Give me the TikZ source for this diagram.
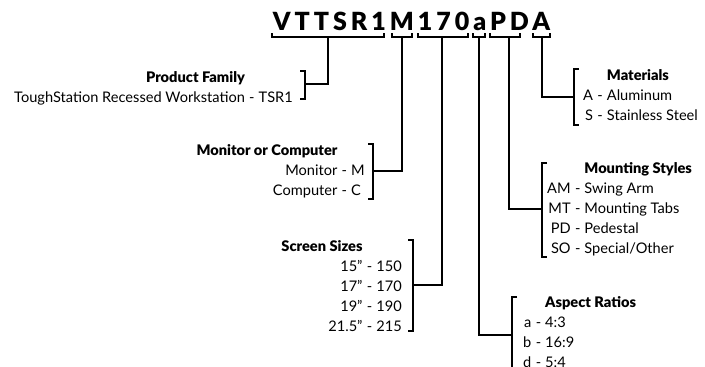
\documentclass[tikz,border=0pt]{standalone}
\usepackage{fontspec}
\setmainfont{Lato}
\newfontfamily\codefont[LetterSpace=16]{Lato Black}
\newfontfamily\headfont{Lato Black}
\newcommand{\txt}{\fontsize{14.6}{16}\selectfont}
\usetikzlibrary{matrix,positioning}

\tikzset{
  brace/.style={line width=1.3pt},
  lead/.style={line width=1.3pt},
  head/.style={font=\txt\headfont},
  group/.style={matrix of nodes, inner sep=0pt, row sep=5.6pt, column sep=4pt,
    nodes={inner sep=0pt, text height=10.6pt, text depth=3.8pt, font=\txt}},
  leftgroup/.style={group, anchor=north east,
    column 1/.style={nodes={anchor=base east}},
    column 2/.style={nodes={anchor=base west}},
    column 3/.style={nodes={anchor=base west}}},
  rightgroup/.style={group, anchor=north west,
    column 1/.style={nodes={anchor=base east}},
    column 2/.style={nodes={anchor=base west}},
    column 3/.style={nodes={anchor=base west}}},
}

\begin{document}
\begin{tikzpicture}[x=1pt,y=-1pt]
 \useasboundingbox (0,0) rectangle (705,367);

 % part number
 \node[font=\codefont\fontsize{25}{25}\selectfont, inner sep=0pt, anchor=base]
   (code) at (411.5,30) {VTTSR1M170aPDA};

 % brackets under the part number
 \foreach \a/\b/\s/\m in {272/384/328/fam, 392/412/402/mon, 418/468/442/siz,
                          473/485/479/asp, 490/520/509/mnt, 533/550/542/mat} {
   \draw[brace] (\a,33) -- (\a,37) -- (\b,37) -- (\b,33);
   \coordinate (\m) at (\s,37);
 }

 % left hand groups
 \matrix[leftgroup] (famlist) at (293,71.6) {
   |[head]| Product Family & & \\
   ToughStation Recessed Workstation &[5pt] - & TSR1 \\
 };
 \matrix[leftgroup] (monlist) at (365,144.6) {
   |[head]| Monitor or Computer & & \\
   Monitor &[4pt] - & M \\
   Computer & - & C \\
 };
 \matrix[leftgroup] (sizlist) at (402,240.6) {
   |[head]| Screen Sizes & & \\
   15” &[4pt] - & 150 \\
   17” & - & 170 \\
   19” & - & 190 \\
   21.5” & - & 215 \\
 };

 % right hand groups
 \matrix[rightgroup] (matlist) at (583,69.6) {
   & & |[head]| Materials \\
   A & - &[4pt] Aluminum \\
   S & - & Stainless Steel \\
 };
 \matrix[rightgroup] (mntlist) at (547,162.6) {
   & & |[head]| Mounting Styles \\
   AM & - &[4pt] Swing Arm \\
   MT & - & Mounting Tabs \\
   PD & - & Pedestal \\
   SO & - & Special/Other \\
 };
 \matrix[rightgroup] (asplist) at (523,296.6) {
   & & |[head]| Aspect Ratios \\
   a & - &[4pt] 4:3 \\
   b & - & 16:9 \\
   d & - & 5:4 \\
 };

 % side brackets
 \draw[brace] (300,71) -- (305,71) -- (305,99) -- (300,99);
 \coordinate (famb) at (305,84);
 \draw[brace] (368,144) -- (373,144) -- (373,199) -- (368,199);
 \coordinate (monb) at (373,171);
 \draw[brace] (408,240) -- (413,240) -- (413,331) -- (408,331);
 \coordinate (sizb) at (413,285);
 \draw[brace] (579,69) -- (574,69) -- (574,125) -- (579,125);
 \coordinate (matb) at (574,97);
 \draw[brace] (547,163) -- (542,163) -- (542,257) -- (547,257);
 \coordinate (mntb) at (542,209);
 \draw[brace] (517,297) -- (512,297) -- (512,370);
 \coordinate (aspb) at (512,335);

 % leaders
 \draw[lead] (fam) |- (famb);
 \draw[lead] (mon) |- (monb);
 \draw[lead] (siz) |- (sizb);
 \draw[lead] (asp) |- (aspb);
 \draw[lead] (mnt) |- (mntb);
 \draw[lead] (mat) |- (matb);
\end{tikzpicture}
\end{document}
